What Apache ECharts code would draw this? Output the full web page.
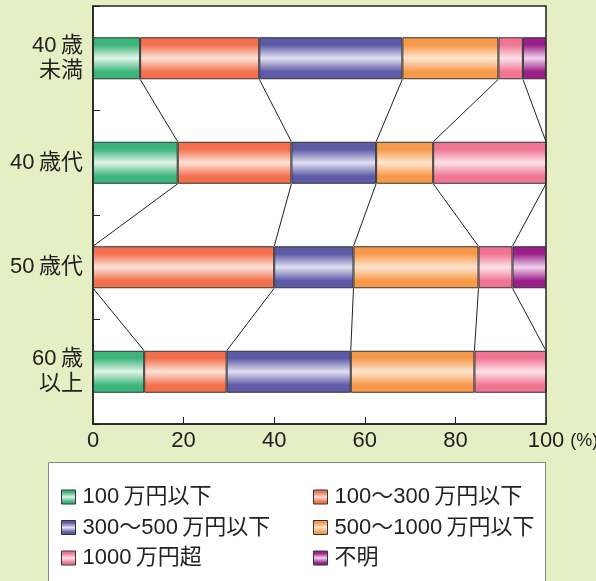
<!DOCTYPE html>
<html>
<head>
<meta charset="utf-8">
<script src="https://cdn.jsdelivr.net/npm/echarts@6/dist/echarts.min.js"></script>
<style>
  html, body { margin: 0; padding: 0; background: #e6efc4; }
  #chart { width: 596px; height: 581px; }
</style>
</head>
<body>
<div id="chart"></div>
<script>
// Age groups (top to bottom)
const categories = ['40\u2009歳\n未満', '40\u2009歳代', '50\u2009歳代', '60\u2009歳\n以上'];

// Income bracket names
const seriesNames = [
  '100\u2009万円以下',
  '100～300\u2009万円以下',
  '300～500\u2009万円以下',
  '500～1000\u2009万円以下',
  '1000\u2009万円超',
  '不明'
];

// Share (%) of each bracket per age group
const under100 = [10.4, 18.7, 0, 11.3];
const from100to300 = [26.3, 25.1, 40.0, 18.2];
const from300to500 = [31.6, 18.7, 17.5, 27.4];
const from500to1000 = [21.2, 12.6, 27.6, 27.3];
const over1000 = [5.4, 24.9, 7.5, 15.8];
const unknown = [5.1, 0, 7.4, 0];

const xTicks = [0, 20, 40, 60, 80, 100];

const seriesValues = [under100, from100to300, from300to500, from500to1000, over1000, unknown];

// base colour and highlight colour for the glossy bands
const palette = [
  ['#3bb57a', '#e3f3e9'],
  ['#f3704f', '#fde3d8'],
  ['#5d5aa6', '#e2e1f2'],
  ['#f7994b', '#fde6d0'],
  ['#f07592', '#fde3ea'],
  ['#9b1f88', '#f0d3ec']
];

function gloss(base, light) {
  return new echarts.graphic.LinearGradient(0, 0, 0, 1, [
    { offset: 0, color: base },
    { offset: 0.18, color: base },
    { offset: 0.5, color: light },
    { offset: 0.82, color: base },
    { offset: 1, color: base }
  ]);
}

const BAR_W = 42;

// cumulative boundaries of each row
const cumulative = categories.map((_, r) => {
  const out = [];
  let acc = 0;
  for (let s = 0; s < seriesValues.length - 1; s++) {
    acc += seriesValues[s][r];
    out.push(acc);
  }
  return out;
});

// connector segments between neighbouring rows: [xUpper, rowUpper, xLower, rowLower]
const connectors = [];
for (let r = 0; r < categories.length - 1; r++) {
  for (let b = 0; b < cumulative[r].length; b++) {
    connectors.push([cumulative[r][b], r, cumulative[r + 1][b], r + 1]);
  }
}

const barSeries = seriesNames.map((name, i) => ({
  name: name,
  type: 'bar',
  stack: 'total',
  barWidth: BAR_W,
  data: seriesValues[i],
  itemStyle: {
    color: gloss(palette[i][0], palette[i][1]),
    borderColor: '#333',
    borderWidth: 1
  },
  emphasis: { disabled: true },
  z: 3
}));

const connectorSeries = {
  type: 'custom',
  name: 'links',
  data: connectors,
  encode: { x: [0, 2], y: [1, 3] },
  renderItem: function (params, api) {
    const p1 = api.coord([api.value(0), api.value(1)]);
    const p2 = api.coord([api.value(2), api.value(3)]);
    return {
      type: 'line',
      shape: { x1: p1[0], y1: p1[1] + BAR_W / 2, x2: p2[0], y2: p2[1] - BAR_W / 2 },
      style: { stroke: '#222', lineWidth: 1 }
    };
  },
  z: 2,
  silent: true
};

const chart = echarts.init(document.getElementById('chart'), null, { renderer: 'canvas' });

const FONT = '"Liberation Sans", "Noto Sans CJK JP", sans-serif';
const labelFont = { fontFamily: FONT, color: '#222' };

const legendCommon = {
  orient: 'vertical',
  top: 481,
  icon: 'rect', itemWidth: 14, itemHeight: 14, itemGap: 8.5,
  itemStyle: { borderColor: '#333', borderWidth: 1 },
  textStyle: Object.assign({}, labelFont, { fontSize: 22, lineHeight: 22, padding: [0, 0, 0, 2] }),
  selectedMode: false
};

chart.setOption({
  backgroundColor: '#e6efc4',
  animation: false,
  textStyle: { fontFamily: FONT },
  grid: {
    left: 93, right: 50, top: 6, bottom: 157,
    outerBoundsMode: 'none',
    show: true,
    backgroundColor: '#ffffff',
    borderColor: '#222',
    borderWidth: 1.5
  },
  xAxis: {
    type: 'value',
    min: 0, max: 100, interval: 20,
    name: '(%)',
    nameLocation: 'end',
    nameGap: 18,
    nameTextStyle: Object.assign({}, labelFont, { fontSize: 18, verticalAlign: 'top', padding: [8, 0, 0, 0] }),
    axisLine: { show: true, lineStyle: { color: '#222', width: 1.5 } },
    axisTick: { show: true, inside: true, length: 7, lineStyle: { color: '#222' } },
    axisLabel: Object.assign({}, labelFont, {
      fontSize: 22, margin: 6,
      formatter: v => (xTicks.indexOf(v) >= 0 ? String(v) : '')
    }),
    splitLine: { show: false }
  },
  yAxis: {
    type: 'category',
    inverse: true,
    data: categories,
    axisLine: { show: true, lineStyle: { color: '#222', width: 1.5 } },
    axisTick: { show: true, inside: true, length: 7, lineStyle: { color: '#222' } },
    axisLabel: Object.assign({}, labelFont, { fontSize: 22, lineHeight: 25, margin: 10, align: 'right' }),
    splitLine: { show: false }
  },
  legend: [
    Object.assign({}, legendCommon, {
      data: [seriesNames[0], seriesNames[2], seriesNames[4]],
      left: 56
    }),
    Object.assign({}, legendCommon, {
      data: [seriesNames[1], seriesNames[3], seriesNames[5]],
      left: 308
    })
  ],
  graphic: [
    {
      type: 'rect',
      left: 48, top: 462,
      shape: { width: 497, height: 130 },
      style: { fill: '#ffffff', stroke: '#888', lineWidth: 1 },
      z: -1,
      silent: true
    }
  ],
  series: barSeries.concat([connectorSeries])
});
</script>
</body>
</html>
